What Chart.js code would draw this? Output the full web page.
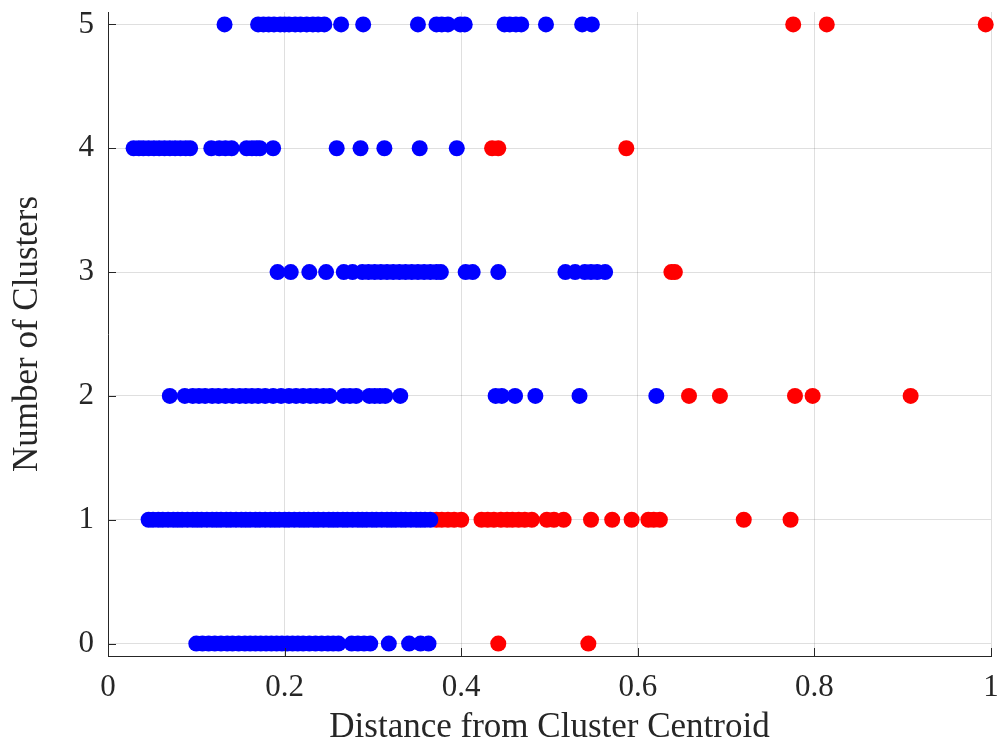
<!DOCTYPE html>
<html>
<head>
<meta charset="utf-8">
<script src="https://cdn.jsdelivr.net/npm/chart.js@4/dist/chart.umd.min.js"></script>
<style>
html,body{margin:0;padding:0;background:#fff;}
#wrap{width:999px;height:741px;position:relative;}
</style>
</head>
<body>
<div id="wrap"><canvas id="c" width="999" height="741"></canvas></div>
<script>
// Distances per number of clusters (blue = inliers, red = outliers)
const blue0 = [0.100,0.107,0.114,0.121,0.128,0.135,0.141,0.148,0.155,0.161,0.167,0.173,0.179,0.185,0.191,0.197,0.203,0.209,0.215,0.221,0.228,0.235,0.242,0.249,0.255,0.261,0.276,0.283,0.290,0.297,0.318,0.341,0.354,0.363];
const red0  = [0.442,0.544];
const blue1 = [0.046,0.051,0.057,0.062,0.068,0.074,0.079,0.084,0.090,0.096,0.101,0.106,0.112,0.118,0.123,0.128,0.134,0.139,0.145,0.151,0.156,0.161,0.167,0.172,0.178,0.184,0.189,0.194,0.200,0.205,0.211,0.217,0.222,0.227,0.233,0.238,0.244,0.250,0.255,0.260,0.266,0.271,0.277,0.283,0.288,0.293,0.299,0.304,0.310,0.316,0.321,0.326,0.332,0.337,0.343,0.349,0.354,0.359,0.365];
const red1  = [0.372,0.378,0.385,0.392,0.400,0.423,0.430,0.437,0.445,0.452,0.458,0.465,0.472,0.480,0.497,0.505,0.516,0.547,0.571,0.593,0.612,0.618,0.625,0.720,0.773];
const blue2 = [0.070,0.087,0.096,0.103,0.110,0.118,0.125,0.133,0.141,0.149,0.156,0.163,0.170,0.178,0.187,0.196,0.205,0.213,0.221,0.229,0.236,0.244,0.251,0.267,0.274,0.281,0.296,0.302,0.308,0.314,0.331,0.439,0.446,0.461,0.484,0.534,0.621];
const red2  = [0.658,0.693,0.778,0.798,0.909];
const blue3 = [0.192,0.207,0.228,0.247,0.267,0.277,0.288,0.295,0.302,0.309,0.316,0.323,0.330,0.337,0.344,0.351,0.358,0.365,0.372,0.377,0.405,0.413,0.442,0.518,0.529,0.540,0.547,0.554,0.563];
const red3  = [0.638,0.642];
const blue4 = [0.029,0.035,0.040,0.046,0.052,0.058,0.064,0.070,0.076,0.082,0.088,0.093,0.117,0.126,0.133,0.140,0.157,0.163,0.168,0.172,0.187,0.259,0.286,0.313,0.353,0.395];
const red4  = [0.435,0.442,0.587];
const blue5 = [0.132,0.170,0.176,0.182,0.188,0.195,0.200,0.205,0.212,0.218,0.225,0.232,0.238,0.245,0.264,0.289,0.351,0.372,0.378,0.385,0.399,0.404,0.449,0.455,0.462,0.468,0.496,0.537,0.548];
const red5  = [0.776,0.814,0.994];

const xTicks = [0,0.2,0.4,0.6,0.8,1];
const yTicks = [0,1,2,3,4,5];
const xLabel = 'Distance from Cluster Centroid';
const yLabel = 'Number of Clusters';

const blueRows = [blue0,blue1,blue2,blue3,blue4,blue5];
const redRows  = [red0,red1,red2,red3,red4,red5];
const toPts = rows => rows.flatMap((r,k)=>r.map(v=>({x:v,y:k})));

const FONT = "'Liberation Serif','Times New Roman',serif";
const AX = '#262626';

const inwardTicks = {
  id:'inwardTicks',
  afterDatasetsDraw(chart){
    const {ctx, chartArea:a, scales:{x,y}} = chart;
    ctx.save();
    ctx.strokeStyle = AX; ctx.lineWidth = 1;
    ctx.beginPath();
    xTicks.forEach(v=>{const p=Math.round(x.getPixelForValue(v))+0.5; ctx.moveTo(p,a.bottom); ctx.lineTo(p,a.bottom-8);});
    yTicks.forEach(v=>{const p=Math.round(y.getPixelForValue(v))+0.5; ctx.moveTo(a.left,p); ctx.lineTo(a.left+8,p);});
    ctx.stroke();
    ctx.restore();
  }
};

new Chart(document.getElementById('c'),{
  type:'scatter',
  data:{datasets:[
    {data:toPts(blueRows), backgroundColor:'#0000ff', borderWidth:0, pointRadius:8, pointHoverRadius:8, clip:false},
    {data:toPts(redRows), backgroundColor:'#ff0000', borderWidth:0, pointRadius:8, pointHoverRadius:8, clip:false}
  ]},
  options:{
    responsive:false, animation:false,
    layout:{padding:{left:0,right:5,top:12,bottom:0}},
    plugins:{legend:{display:false}, tooltip:{enabled:false}},
    scales:{
      x:{
        type:'linear', min:0, max:1,
        afterBuildTicks:s=>{s.ticks = xTicks.map(v=>({value:v}));},
        afterFit:s=>{s.height = 85; s.paddingLeft = 0; s.paddingRight = 0;},
        ticks:{color:AX, font:{family:FONT,size:31}, padding:13, maxRotation:0,
          callback:v=>String(v)},
        grid:{color:'rgba(38,38,38,0.15)', lineWidth:1, drawTicks:false},
        border:{display:true,color:AX,width:1},
        title:{display:true,text:xLabel,color:AX,font:{family:FONT,size:35,lineHeight:1},padding:{top:0,bottom:-4}}
      },
      y:{
        type:'linear', min:-0.1, max:5.1,
        afterBuildTicks:s=>{s.ticks = yTicks.map(v=>({value:v}));},
        afterFit:s=>{s.width = 108; s.paddingTop = 0; s.paddingBottom = 0;},
        ticks:{color:AX, font:{family:FONT,size:31}, padding:14, callback:v=>String(v)},
        grid:{color:'rgba(38,38,38,0.15)', lineWidth:1, drawTicks:false},
        border:{display:true,color:AX,width:1},
        title:{display:true,text:yLabel,color:AX,font:{family:FONT,size:35,lineHeight:1},padding:{top:10,bottom:0}}
      }
    }
  },
  plugins:[inwardTicks]
});
</script>
</body>
</html>
